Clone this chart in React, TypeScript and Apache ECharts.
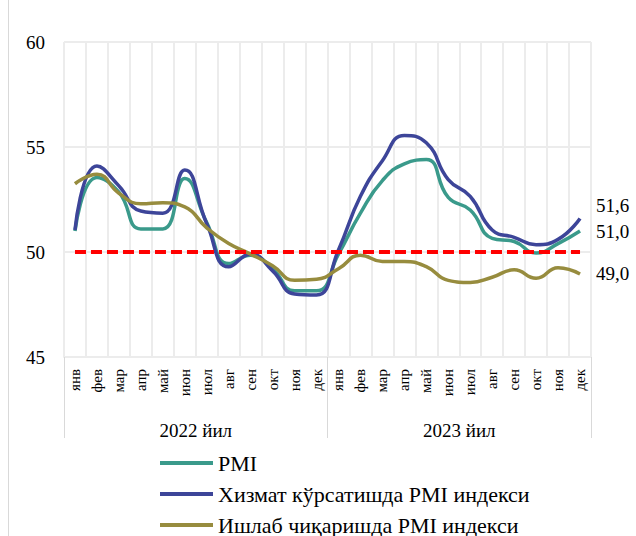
import React, { useEffect, useRef } from "react";
import * as echarts from "echarts";

const months = ["янв", "фев", "мар", "апр", "май", "июн", "июл", "авг", "сен", "окт", "ноя", "дек"];
const categories = [...months, ...months];
const years = ["2022 йил", "2023 йил"];

const pmiName = "PMI";
const servicesName = "Хизмат кўрсатишда PMI индекси";
const manufacturingName = "Ишлаб чиқаришда PMI индекси";

const pmi = [51.0, 53.55, 52.85, 51.1, 51.1, 53.5, 51.4, 49.45, 49.85, 49.2, 48.15, 48.15,
  49.9, 51.85, 53.4, 54.2, 54.4, 52.6, 52.0, 50.65, 50.5, 49.95, 50.4, 51.0];
const services = [51.05, 54.1, 53.15, 51.95, 51.85, 53.9, 51.35, 49.3, 49.9, 49.1, 48.0, 47.95,
  50.1, 52.65, 54.35, 55.55, 55.2, 53.45, 52.65, 51.05, 50.7, 50.35, 50.6, 51.6];
const manufacturing = [53.25, 53.7, 52.8, 52.3, 52.35, 52.15, 51.15, 50.4, 49.9, 49.35, 48.65, 48.7,
  49.2, 49.85, 49.55, 49.55, 49.3, 48.65, 48.55, 48.8, 49.15, 48.75, 49.25, 48.95];
const threshold = 50;

const yMin = 45;
const yMax = 60;
const yInterval = 5;

const FONT = "Liberation Serif, Times New Roman, serif";
const GRID_COLOR = "#ececec";

export default function App() {
  const ref = useRef<HTMLDivElement>(null);
  useEffect(() => {
    const chart = echarts.init(ref.current!, null, { renderer: "svg" });
    const fmt = (p: any) => Number(Array.isArray(p.value) ? p.value[1] : p.value).toFixed(1).replace(".", ",");
    const endLabel = (dy: number) => ({
      show: true,
      formatter: fmt,
      distance: 0,
      offset: [16, dy],
      color: "#000",
      fontSize: 19,
      fontFamily: FONT,
    });
    const lineSeries = (name: string, data: number[], color: string, dy: number) => ({
      name,
      type: "line",
      data,
      smooth: 0.5,
      symbol: "none",
      lineStyle: { color, width: 3.5 },
      itemStyle: { color },
      endLabel: endLabel(dy),
    });
    chart.setOption({
      animation: false,
      textStyle: { fontFamily: FONT },
      grid: { left: 64, right: 45, top: 42, bottom: 179 },
      xAxis: [
        {
          type: "category",
          data: categories,
          boundaryGap: true,
          axisLine: { show: true, lineStyle: { color: GRID_COLOR, width: 2 } },
          axisTick: { show: false },
          splitLine: { show: true, interval: 0, lineStyle: { color: GRID_COLOR, width: 2 } },
          axisLabel: {
            interval: 0,
            rotate: 90,
            margin: 12,
            color: "#000",
            fontSize: 15,
            fontFamily: FONT,
          },
        },
        {
          type: "category",
          data: years,
          position: "bottom",
          boundaryGap: true,
          axisLine: { show: false },
          axisTick: { show: true, length: 81, lineStyle: { color: "#d9d9d9", width: 1 } },
          splitLine: { show: false },
          axisLabel: {
            interval: 0,
            margin: 64,
            color: "#000",
            fontSize: 19,
            fontFamily: FONT,
          },
        },
      ],
      yAxis: {
        type: "value",
        min: yMin,
        max: yMax,
        interval: yInterval,
        axisLine: { show: false },
        axisTick: { show: false },
        splitLine: { show: true, lineStyle: { color: GRID_COLOR, width: 2 } },
        axisLabel: { color: "#000", fontSize: 19, fontFamily: FONT, margin: 19 },
      },
      legend: {
        orient: "vertical",
        left: 160,
        top: 452,
        width: 450,
        height: 100,
        padding: 0,
        itemWidth: 53,
        itemHeight: 4,
        itemGap: 9,
        icon: "rect",
        data: [pmiName, servicesName, manufacturingName],
        textStyle: { color: "#000", fontSize: 22, lineHeight: 20, fontFamily: FONT },
      },
      series: [
        lineSeries(pmiName, pmi, "#3a9a8b", 0),
        lineSeries(servicesName, services, "#3d4599", -13),
        lineSeries(manufacturingName, manufacturing, "#978c3e", -1),
        {
          name: "threshold",
          type: "line",
          data: categories.map(() => threshold),
          symbol: "none",
          lineStyle: { color: "#ff0000", width: 4, type: [11, 5] },
          itemStyle: { color: "#ff0000" },
        },
      ],
      graphic: [
        {
          type: "line",
          shape: { x1: 8.5, y1: 0, x2: 8.5, y2: 536 },
          style: { stroke: "#d9d9d9", lineWidth: 1 },
        },
      ],
    });
    return () => chart.dispose();
  }, []);
  return (
    <div
      ref={ref}
      style={{ position: "absolute", left: 0, top: 0, width: 636, height: 536, background: "#fff" }}
    />
  );
}
